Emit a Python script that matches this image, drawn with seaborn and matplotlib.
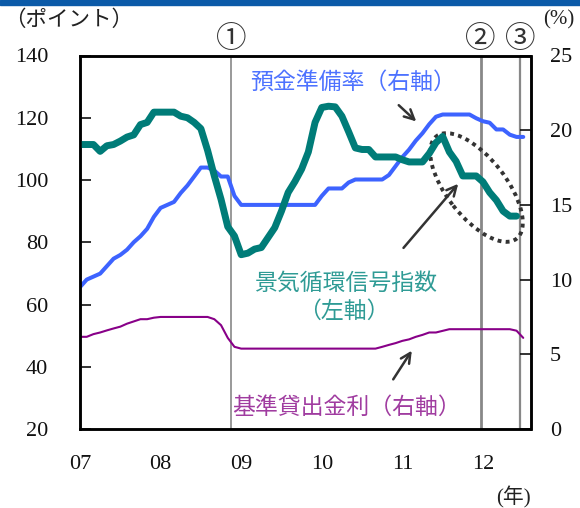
import numpy as np
import pandas as pd
import matplotlib
matplotlib.use('Agg')
import matplotlib.pyplot as plt
import seaborn as sns
from matplotlib.patches import Ellipse, Rectangle

# データ (2007年1月～2012年7月, 月次)
months = pd.date_range('2007-01-01', periods=67, freq='MS')
years = months.year + (months.month - 1) / 12

# 景気循環信号指数 (左軸, ポイント) 2007/01～2012/06
signal_index = [111.4, 111.4, 111.4, 109.2, 111.0, 111.4, 112.5, 113.8, 114.5, 117.8,
                118.5, 121.8, 121.8, 121.8, 121.8, 120.5, 120.0, 118.5, 116.5, 109.5,
                101.3, 93.8, 85.0, 82.0, 76.0, 76.5, 77.8, 78.3, 81.5, 84.7,
                90.0, 96.0, 99.5, 103.5, 109.0, 118.5, 123.3, 123.7, 123.5, 120.5,
                115.5, 110.3, 109.8, 109.8, 107.4, 107.4, 107.4, 107.4, 106.5, 105.8,
                105.8, 105.8, 108.5, 112.0, 114.0, 109.0, 106.0, 101.3, 101.3, 101.3,
                99.4, 96.0, 93.5, 90.0, 88.4, 88.4]

# 預金準備率 (右軸, %)
reserve_ratio = [9.5, 10.0, 10.2, 10.4, 10.9, 11.4, 11.65, 12.0, 12.5, 12.9,
                 13.4, 14.2, 14.8, 15.0, 15.2, 15.8, 16.3, 16.9, 17.5, 17.5,
                 17.3, 16.9, 16.9, 15.6, 15.0, 15.0, 15.0, 15.0, 15.0, 15.0,
                 15.0, 15.0, 15.0, 15.0, 15.0, 15.0, 15.6, 16.1, 16.1, 16.1,
                 16.5, 16.7, 16.7, 16.7, 16.7, 16.7, 17.0, 17.6, 18.2, 18.7,
                 19.3, 19.8, 20.4, 20.9, 21.05, 21.05, 21.05, 21.05, 21.05, 20.8,
                 20.6, 20.5, 20.05, 20.05, 19.7, 19.55, 19.55]

# 基準貸出金利 (右軸, %)
lending_rate = [6.17, 6.17, 6.35, 6.46, 6.6, 6.73, 6.85, 7.05, 7.2, 7.35,
                7.35, 7.45, 7.5, 7.5, 7.5, 7.5, 7.5, 7.5, 7.5, 7.5,
                7.35, 6.95, 6.1, 5.5, 5.38, 5.38, 5.38, 5.38, 5.38, 5.38,
                5.38, 5.38, 5.38, 5.38, 5.38, 5.38, 5.38, 5.38, 5.38, 5.38,
                5.38, 5.38, 5.38, 5.38, 5.38, 5.5, 5.63, 5.75, 5.9, 6.0,
                6.17, 6.3, 6.46, 6.46, 6.57, 6.68, 6.68, 6.68, 6.68, 6.68,
                6.68, 6.68, 6.68, 6.68, 6.68, 6.58, 6.1]

event_years = [2008.875, 2011.97, 2012.46]
event_labels = ['①', '②', '③']
event_widths = [1.2, 2.0, 1.6]
year_ticks = [2007, 2008, 2009, 2010, 2011, 2012]
year_labels = ['07', '08', '09', '10', '11', '12']

df_left = pd.DataFrame({'year': years[:len(signal_index)], 'signal': signal_index})
df_right = pd.DataFrame({'year': years, 'reserve': reserve_ratio, 'lending': lending_rate})

sns.set_style('white')
plt.rcParams['font.family'] = ['Liberation Serif', 'Noto Sans CJK JP']
JP = ['Noto Sans CJK JP', 'DejaVu Sans']

W, H = 580, 508
fig = plt.figure(figsize=(5.8, 5.08), dpi=100)


def px(x, y):
    return (x / W, 1 - y / H)


ax = fig.add_axes([80 / W, (H - 429) / H, 450.5 / W, 373.5 / H])
ax2 = ax.twinx()
ax.set_zorder(2)
ax2.set_zorder(1)
ax.patch.set_visible(False)

# 線
sns.lineplot(data=df_right, x='year', y='reserve', ax=ax2, color='#3d63ff', linewidth=2.9)
sns.lineplot(data=df_right, x='year', y='lending', ax=ax2, color='#880088', linewidth=1.5)
sns.lineplot(data=df_left, x='year', y='signal', ax=ax, color='#007c78', linewidth=5,
             solid_joinstyle='round')

for xv, lab, lw in zip(event_years, event_labels, event_widths):
    ax2.axvline(xv, color='#888888', lw=lw, zorder=0)
    ax.text(xv, 1.043, lab, transform=ax.get_xaxis_transform(), ha='center', va='center',
            fontsize=22, family=JP, color='#333333')

ax.set_xlim(2007, 2012.59)
ax.set_ylim(20, 140)
ax2.set_ylim(0, 25)
ax.set_yticks(range(20, 141, 20))
ax2.set_yticks(range(0, 26, 5))
ax.set_xticks(year_ticks)
ax.set_xticklabels(year_labels)
ax.set_xlabel('')
ax.set_ylabel('')
ax2.set_ylabel('')

ax.tick_params(axis='y', direction='in', length=8, width=1.2, pad=23, labelsize=16, colors='#111111')
ax.tick_params(axis='x', direction='in', length=8, width=1.2, pad=19, labelsize=16, colors='#111111')
ax2.tick_params(axis='y', direction='in', length=8, width=1.2, pad=14, labelsize=16, colors='#111111')
for a in (ax, ax2):
    for s in a.spines.values():
        s.set_color('black')
        s.set_linewidth(1.8)

# 上部の帯
fig.patches.append(Rectangle((0, 1 - 5 / H), 1, 5 / H, transform=fig.transFigure,
                             color='#0b5aa8', zorder=0))

# 軸ラベル
fig.text(*px(4, 20), '（ポイント）', ha='left', va='center', fontsize=15.5, family=JP, color='#222222')
fig.text(*px(559, 20), '(%)', ha='center', va='center', fontsize=15, color='#222222')
fig.text(*px(513, 497), '(年)', ha='center', va='center', fontsize=15,
         family=['Liberation Serif', 'Noto Sans CJK JP'], color='#222222')

# 注記
fig.text(*px(353, 82), '預金準備率（右軸）', ha='center', va='center', fontsize=16.5, family=JP, color='#4d72ff')
fig.text(*px(346, 283), '景気循環信号指数', ha='center', va='center', fontsize=16.5, family=JP, color='#2f9b95')
fig.text(*px(344, 311), '（左軸）', ha='center', va='center', fontsize=16.5, family=JP, color='#2f9b95')
fig.text(*px(347, 407), '基準貸出金利（右軸）', ha='center', va='center', fontsize=16.5, family=JP, color='#a03ca0')

arrow_kw = dict(arrowstyle='->,head_length=0.7,head_width=0.35', color='#333333', lw=1.8)
for tail, head in [((396.7, 103.3), (418.3, 123.3)),
                   ((401.7, 250.0), (460.0, 181.7)),
                   ((391.7, 381.7), (413.3, 348.3))]:
    ax.annotate('', xy=px(*head), xytext=px(*tail), xycoords='figure fraction',
                textcoords='figure fraction', arrowprops=arrow_kw)

ell = Ellipse((476.5 / 100, (H - 187.5) / 100), width=1.30, height=0.59, angle=-52,
              transform=fig.dpi_scale_trans, fill=False, edgecolor='#333333',
              linewidth=2.8, linestyle=(0, (1, 1.1)))
fig.patches.append(ell)

fig.savefig('out.png', dpi=100)
